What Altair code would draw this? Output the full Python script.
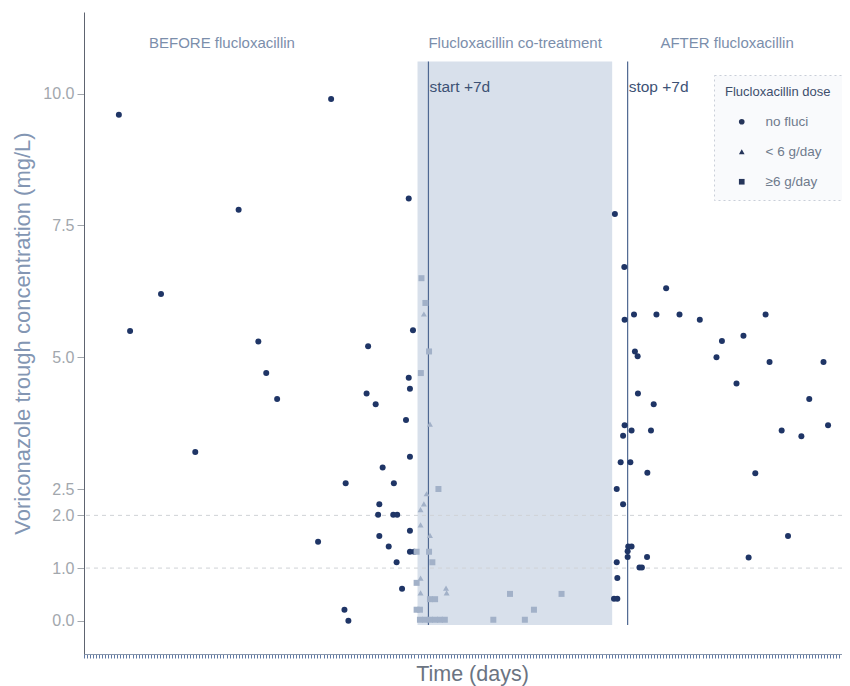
import altair as alt
import pandas as pd

# ---- data ----
nofluci_day = [11.5, 15.2, 25.4, 51.0, 81.5, 36.7, 57.5, 60.1, 63.7, 77.2, 86.3, 85.9, 87.2,
               93.7, 93.2, 96.2, 98.5, 97.4, 97.0, 102.0, 103.3, 102.2, 97.4, 100.5, 103.1,
               104.9, 107.5, 106.2, 107.5, 107.1, 107.5, 107.5, 108.9, 107.1, 108.5,
               175.1, 178.2, 178.3, 181.4, 188.8, 196.4, 192.0, 203.1, 208.6, 181.7, 182.6,
               182.7, 187.9, 178.3, 177.8, 180.6, 187.0, 177.0, 180.2, 185.8, 175.7, 177.8,
               179.5, 180.6, 179.3, 179.3, 185.7, 175.7, 183.2, 184.0, 175.9, 174.8, 175.9,
               210.4, 217.5, 226.1, 243.9, 215.2, 239.2, 230.1, 236.6, 245.4, 221.4, 232.2,
               219.2, 224.8]
nofluci_conc = [9.60, 5.50, 6.20, 7.80, 9.90, 3.20, 5.30, 4.70, 4.21, 1.50, 2.61, 0.21, 0.00,
                5.21, 4.31, 4.11, 2.91, 2.21, 2.01, 2.01, 2.01, 2.61, 1.61, 1.41, 1.11,
                0.61, 1.71, 3.81, 3.11, 4.61, 4.40, 1.31, 1.31, 8.01, 5.51,
                7.72, 6.71, 5.71, 5.81, 5.81, 5.81, 6.31, 5.71, 5.00, 5.11, 5.02,
                4.31, 4.11, 3.71, 3.51, 3.61, 3.61, 3.01, 3.01, 2.81, 2.50, 2.21,
                1.41, 1.41, 1.32, 1.21, 1.21, 1.11, 1.01, 1.01, 0.81, 0.42, 0.42,
                5.31, 5.41, 4.91, 4.91, 4.50, 4.21, 3.61, 3.50, 3.71, 2.80, 1.61,
                1.20, 5.81]

lt6_day = [112.1, 114.1, 113.0, 112.1, 111.0, 111.0, 114.1, 111.0, 119.4, 119.6, 111.0]
lt6_conc = [5.82, 3.73, 2.41, 2.22, 2.11, 1.82, 1.62, 0.81, 0.62, 0.53, 0.53]

ge6_day = [111.3, 112.6, 113.8, 111.1, 116.9, 109.7, 113.8, 114.9, 109.7, 114.1, 115.8,
           109.7, 110.8, 110.8, 112.5, 114.1, 115.8, 117.4, 119.0, 140.5, 157.5, 148.4,
           135.0, 145.4]
ge6_conc = [6.50, 6.03, 5.11, 4.70, 2.50, 1.31, 1.31, 1.11, 0.72, 0.41, 0.41,
            0.21, 0.21, 0.02, 0.02, 0.02, 0.02, 0.02, 0.02, 0.51, 0.51, 0.21,
            0.02, 0.02]

dose_labels = ["no fluci", "< 6 g/day", "\u22656 g/day"]

period_start = 110.0     # shaded co-treatment band
period_end = 174.2
band_top = 10.61
band_bottom = -0.08
vline_days = [113.6, 179.3]
vline_labels = ["start +7d", "stop +7d"]
targets = [1.0, 2.0]

section_labels = ["BEFORE flucloxacillin", "Flucloxacillin co-treatment", "AFTER flucloxacillin"]
section_days = [45.5, 142.2, 212.1]
section_y = 10.97
vlabel_y = 10.13

y_ticks = [0.0, 1.0, 2.0, 2.5, 5.0, 7.5, 10.0]

# ---- tables ----
dose_col = ([dose_labels[0]] * len(nofluci_day) + [dose_labels[1]] * len(lt6_day)
            + [dose_labels[2]] * len(ge6_day))
pts = pd.DataFrame({
    "day": nofluci_day + lt6_day + ge6_day,
    "conc": nofluci_conc + lt6_conc + ge6_conc,
    "dose": dose_col,
    "group": dose_col,
})
band = pd.DataFrame({"x": [period_start], "x2": [period_end], "y": [band_bottom], "y2": [band_top]})
vlines = pd.DataFrame({"x": vline_days, "label": vline_labels, "y": [band_bottom] * 2,
                       "y2": [band_top] * 2, "ty": [vlabel_y] * 2})
hlines = pd.DataFrame({"y": targets})
sections = pd.DataFrame({"x": section_days, "label": section_labels, "y": [section_y] * 3})

FONT = "Liberation Sans"
xs = alt.Scale(domain=[0, 250], nice=False, zero=False)
ys = alt.Scale(domain=[-0.63, 11.55], nice=False, zero=False)

x_axis = alt.Axis(title="Time (days)", labels=False, tickCount=250, tickSize=4,
                  tickColor="#5f78a3", domainColor="#8a98ad", grid=False,
                  titleFontSize=21.5, titleFontWeight="normal", titleColor="#6b7482",
                  titleFont=FONT, titlePadding=5, titleX=388, titleAlign="center")
y_axis = alt.Axis(title="Voriconazole trough concentration (mg/L)", values=y_ticks, format=".1f",
                  labelFontSize=16, labelColor="#a2a7ad", labelFont=FONT, tickColor="#a2a7ad",
                  tickSize=7, labelPadding=3, domainColor="#5e6470", grid=False,
                  titleFontSize=22, titleFontWeight="normal", titleColor="#8396b3",
                  titleFont=FONT, titlePadding=8)

band_layer = alt.Chart(band).mark_rect(color="#d8e0eb").encode(
    x=alt.X("x:Q", scale=xs, axis=x_axis), x2="x2:Q",
    y=alt.Y("y:Q", scale=ys, axis=y_axis), y2="y2:Q")

h_layer = alt.Chart(hlines).mark_rule(color="#cfd2d6", strokeDash=[4, 4], strokeWidth=1).encode(
    y=alt.Y("y:Q", scale=ys))

v_layer = alt.Chart(vlines).mark_rule(color="#4e6791", strokeWidth=1.2).encode(
    x=alt.X("x:Q", scale=xs), y=alt.Y("y:Q", scale=ys), y2="y2:Q")

v_text = alt.Chart(vlines).mark_text(align="left", baseline="middle", dx=1, fontSize=15.5,
                                      font=FONT, color="#3d5275").encode(
    x=alt.X("x:Q", scale=xs), y=alt.Y("ty:Q", scale=ys), text="label:N")

sec_text = alt.Chart(sections).mark_text(align="center", baseline="middle", fontSize=15,
                                          font=FONT, color="#7b8eab").encode(
    x=alt.X("x:Q", scale=xs), y=alt.Y("y:Q", scale=ys), text="label:N")

points = alt.Chart(pts).mark_point(filled=True, size=36, opacity=1).encode(
    x=alt.X("day:Q", scale=xs),
    y=alt.Y("conc:Q", scale=ys),
    color=alt.Color("group:N", scale=alt.Scale(domain=dose_labels,
                                               range=["#1f3566", "#a2b1c8", "#a2b1c8"]),
                    legend=None),
    shape=alt.Shape("dose:N", scale=alt.Scale(domain=dose_labels,
                                              range=["circle", "triangle-up", "square"]),
                    legend=alt.Legend(title="Flucloxacillin dose", orient="none",
                                      legendX=630, legendY=63,
                                      symbolFillColor="#26355a", symbolSize=32,
                                      symbolOpacity=1, symbolStrokeWidth=0)),
)

chart = alt.layer(band_layer, h_layer, v_layer, points, v_text, sec_text).resolve_legend(
    shape="independent"
).properties(
    width=758, height=642,
    autosize=alt.AutoSizeParams(type="none"),
    padding={"left": 76, "top": 4, "right": 0, "bottom": 32},
).configure_view(stroke=None).configure_legend(
    titleFontSize=13, titleFont=FONT, titleFontWeight="normal", titleColor="#3e4f6c",
    labelFontSize=13.5, labelFont=FONT, labelColor="#6f7b8c",
    padding=11, rowPadding=15, titlePadding=16, labelOffset=17, symbolOffset=10,
    fillColor="#f9fafc", strokeColor="#c9cfd8", strokeDash=[2, 3],
)

chart.save("out.html", embed_options={"renderer": "svg", "actions": False})
